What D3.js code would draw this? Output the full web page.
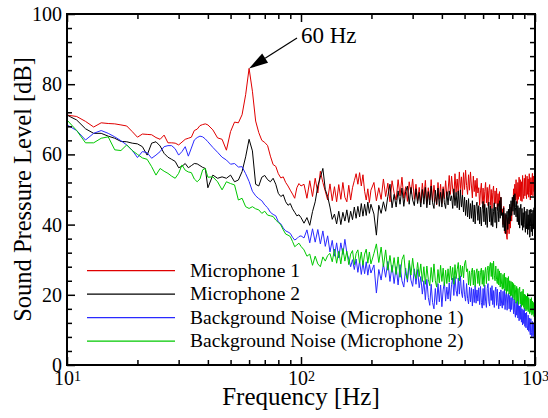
<!DOCTYPE html>
<html><head><meta charset="utf-8">
<script src="https://cdn.jsdelivr.net/npm/d3@7"></script>
<style>body{margin:0;background:#fff}svg{display:block}</style>
</head><body><svg id="c" width="548" height="418"></svg>
<script>
// frequency sampling grid segments [start, end, step] in Hz
const freqSegments = [[10,40,1],[42,100,2],[103,199,3],[205,1000,5]];

const mic1 = [
71.2,70.8,69.4,67.8,69.0,68.8,68.7,68.4,68.1,66.5,64.9,65.8,65.7,65.6,64.8,64.3,65.5,63.3,63.3,63.2,62.7,63.5,64.3,64.6,64.9,66.8,67.2,68.2,68.5,68.7,68.4,
67.0,64.7,64.3,61.2,66.5,69.2,69.0,71.3,77.0,84.5,78.0,69.5,66.2,64.0,63.4,62.5,59.5,57.1,56.6,54.5,53.3,53.6,52.0,51.0,49.8,48.7,47.5,50.5,51.7,51.0,
51.5,47.5,52.5,48.0,53.2,49.0,55.2,52.0,49.5,47.0,51.6,46.8,50.8,46.5,51.4,47.2,52.0,47.8,46.5,51.2,47.0,50.5,52.5,54.5,51.5,54.8,51.0,54.2,49.5,47.0,50.2,46.3,49.8,
52.0,46.8,50.5,47.2,53.0,48.0,51.8,46.5,52.5,49.0,
47.0,52.8,48.2,53.5,47.5,50.8,46.6,52.2,48.8,53.0,47.2,51.5,46.8,50.6,
46.2,51.8,47.5,52.6,45.8,50.5,47.0,52.8,46.5,51.2,48.0,45.6,52.0,47.2,51.5,46.0,50.8,47.4,52.5,48.2,
49.5,54.0,48.6,53.8,50.0,47.8,54.5,49.2,53.0,48.5,55.0,50.2,53.6,48.4,54.8,50.0,55.5,51.2,48.6,54.2,49.8,55.0,51.0,47.6,53.8,49.4,52.6,48.0,53.2,49.0,
50.5,45.5,49.6,51.8,46.0,50.4,44.8,49.5,52.0,46.2,50.6,45.4,49.8,51.4,45.6,50.0,44.6,49.2,51.0,45.2,49.6,46.0,50.4,44.4,48.8,45.2,49.4,43.6,47.8,43.0,
44.5,40.0,45.2,39.2,37.5,42.8,37.0,35.8,40.5,42.0,37.4,43.5,39.0,45.0,41.0,46.2,
45.2,50.2,46.0,51.5,47.0,52.8,47.6,46.0,52.0,47.2,53.5,48.0,52.8,46.8,52.2,46.6,54.0,48.8,47.4,53.2,48.2,54.2,49.0,47.4,53.8,48.6,53.0,47.8,54.5,49.2,47.0,53.4,48.4,52.8,54.6,48.2,53.8,49.4,54.8,50.0
];

const mic2 = [
71.2,69.8,67.3,66.0,66.0,65.2,64.6,63.7,63.6,63.2,63.0,62.2,59.8,63.2,63.6,62.4,60.3,59.2,58.6,58.0,56.2,56.6,57.4,56.2,56.8,57.4,57.3,56.8,56.3,56.0,50.5,
54.1,53.2,53.6,53.2,54.1,52.2,52.7,55.1,59.3,64.3,61.0,51.5,51.0,53.5,54.0,52.8,52.2,53.2,51.5,48.9,48.0,48.5,46.5,45.5,46.0,44.5,43.5,42.5,42.8,42.0,
40.4,42.0,39.8,43.7,46.5,51.0,53.5,56.0,50.0,48.0,45.0,41.5,43.0,40.2,43.8,40.0,43.5,41.0,44.2,40.6,43.8,41.4,45.0,41.8,45.2,42.2,46.0,42.4,45.8,42.6,46.4,43.2,45.8,
43.0,37.0,45.5,43.2,46.5,43.8,48.0,51.5,44.8,48.6,
45.0,49.6,45.8,50.4,45.2,49.4,51.0,45.8,50.6,47.0,45.4,50.2,46.0,49.2,
45.0,50.0,45.8,50.6,44.8,49.4,45.6,51.0,46.2,44.6,49.8,45.8,50.4,45.2,49.2,45.0,50.2,46.2,44.6,49.4,
45.6,49.6,46.8,48.2,44.6,50.2,45.4,49.2,44.8,49.6,44.2,50.0,45.0,48.4,43.6,47.8,42.6,47.0,42.2,47.4,41.6,46.0,41.8,46.8,40.8,45.6,40.2,45.2,46.4,41.2,
45.4,40.2,45.0,39.6,44.4,46.6,40.8,45.8,40.0,44.8,39.2,44.2,46.4,40.8,45.4,39.8,44.6,39.4,43.8,46.2,40.6,45.0,39.0,43.8,46.0,40.8,46.8,41.8,47.8,42.6,
43.4,39.2,44.8,38.2,43.2,37.4,42.2,43.8,38.6,44.4,40.2,45.8,41.0,46.8,42.6,47.8,
43.8,48.4,42.8,48.8,44.8,42.2,46.6,40.8,45.4,40.0,44.8,39.0,44.2,45.8,39.8,44.6,38.4,43.4,39.2,45.0,40.0,37.8,43.8,38.8,44.4,37.2,42.8,38.6,44.2,36.4,39.4,44.4,38.0,43.2,36.8,43.6,38.8,44.8,38.2,43.0
];

const noise1 = [
68.4,66.8,64.1,66.0,66.8,66.0,65.0,63.9,62.7,61.2,59.1,60.8,60.5,58.9,59.8,60.8,62.2,62.5,62.5,61.6,59.8,60.8,62.2,59.5,61.8,64.1,64.8,65.2,65.0,64.4,63.6,
62.0,60.6,59.2,58.4,57.2,57.4,56.4,56.5,54.5,52.3,49.5,48.2,47.4,46.8,45.6,44.8,43.5,42.9,42.5,40.8,40.2,39.0,38.2,37.9,37.5,36.4,35.6,36.0,36.6,36.8,
36.2,38.5,34.8,38.8,35.0,38.6,34.5,38.2,33.8,36.8,32.2,35.5,31.0,34.8,30.5,34.8,31.5,35.8,32.0,30.2,28.0,30.0,27.2,30.2,26.4,29.6,25.8,29.2,26.0,29.4,25.6,28.6,26.2,
28.5,20.5,27.2,24.2,28.8,25.0,29.5,23.8,28.4,23.2,
28.0,22.8,28.6,24.0,22.2,27.6,23.6,29.0,24.2,22.4,27.4,23.0,27.2,22.0,
25.2,20.2,24.0,18.6,24.4,19.2,17.0,23.0,17.8,16.0,21.8,17.2,23.2,18.0,22.8,16.6,21.4,23.6,18.2,22.2,
18.8,23.4,18.2,23.0,24.8,19.8,25.2,21.2,19.6,24.8,20.2,25.4,20.8,19.2,24.2,20.0,18.2,23.2,19.0,17.4,22.2,18.0,22.0,16.8,21.6,17.8,22.6,17.6,21.4,18.2,
22.0,17.2,22.4,17.8,16.2,21.8,17.0,22.8,18.2,16.4,21.8,23.2,18.0,16.8,22.0,18.4,22.6,17.2,21.2,16.4,21.0,22.2,17.0,21.6,17.8,16.0,20.8,16.8,21.4,17.4,
16.2,21.0,17.0,21.6,15.8,20.0,20.8,15.6,19.6,20.4,16.0,19.8,15.2,19.2,15.8,20.0,
18.2,14.6,18.8,15.0,13.6,18.0,14.2,18.4,13.4,17.0,12.6,16.8,13.0,17.2,12.2,16.0,11.4,15.6,11.8,16.2,11.0,14.8,10.6,15.0,11.2,10.0,14.2,9.6,13.4,9.8,8.6,13.2,9.2,8.0,12.4,8.4,12.0,7.6,11.4,8.2
];

const noise2 = [
69.8,66.8,63.3,63.3,64.6,65.0,61.3,61.1,62.7,61.1,60.0,59.0,58.6,56.5,54.1,56.0,55.2,54.6,53.8,53.2,54.6,57.0,55.5,55.0,54.8,53.0,52.2,53.0,55.6,56.0,53.5,
53.6,52.2,49.9,52.2,51.7,51.3,47.0,47.5,45.1,44.6,45.1,44.5,44.2,43.2,43.8,42.7,42.5,42.3,41.3,40.6,39.9,38.5,37.3,37.0,36.6,35.2,33.7,34.2,34.7,33.8,
32.8,31.0,31.6,28.4,31.0,28.8,28.0,30.8,29.6,31.2,31.8,29.4,33.0,29.0,32.4,28.8,33.2,29.6,32.4,28.6,31.6,32.6,28.6,31.8,32.8,29.0,32.2,28.4,31.6,33.0,29.0,32.2,28.8,
31.8,34.5,29.2,33.6,28.0,32.8,27.0,31.2,26.4,30.6,
25.8,30.8,25.0,30.0,31.4,26.0,24.4,29.8,25.6,30.4,26.2,24.6,29.2,25.2,
28.8,23.8,28.0,23.0,28.2,24.4,22.6,27.8,23.6,28.8,24.0,22.2,27.2,23.4,28.4,23.8,27.6,22.6,27.0,23.2,
27.4,23.6,28.2,24.2,27.8,23.0,28.6,24.6,27.2,29.2,24.0,28.4,25.2,28.2,24.8,28.8,29.8,26.6,27.4,22.8,26.8,22.6,26.4,27.6,22.8,27.0,22.4,26.2,27.4,23.2,
26.8,22.6,26.4,27.6,23.0,27.0,22.4,26.2,27.8,23.2,27.0,28.2,24.0,28.0,29.2,25.2,29.0,24.4,29.6,25.6,24.0,28.2,24.4,23.2,27.4,22.8,26.8,22.2,26.2,23.0,
21.6,25.8,21.8,26.2,21.2,25.0,20.4,24.8,21.0,25.2,20.2,24.0,19.6,23.8,19.8,23.6,
19.2,23.2,18.6,22.8,21.4,17.6,22.4,18.2,21.8,17.2,21.2,22.2,17.4,20.8,16.6,21.0,17.0,21.6,16.4,20.2,16.0,20.0,15.4,19.6,15.8,20.4,15.2,19.2,15.6,14.6,18.8,15.0,19.2,14.2,18.2,14.6,17.8,13.8,18.0,14.4
];

const seriesNames = ["Microphone 1","Microphone 2","Background Noise (Microphone 1)","Background Noise (Microphone 2)"];
const seriesValues = [mic1, mic2, noise1, noise2];
const seriesColors = ["#e00000","#000000","#2a2aff","#00c800"];
const yMajorTicks = [0,20,40,60,80,100];
const xMajorTicks = [10,100,1000];
const annotation = {label:"60 Hz", freq:60, value:84.5};
const xTitle = "Frequency [Hz]";
const yTitle = "Sound Pressure Level [dB]";

const FONT = '"Liberation Serif","Times New Roman",Times,serif';
const freqs = [].concat(...freqSegments.map(([a,b,s]) => d3.range(a, b + s/2, s)));

const svg = d3.select("#c");
const L=67, R=535, T=14, B=365;
const x = d3.scaleLog().domain([10,1000]).range([L,R]);
const y = d3.scaleLinear().domain([0,100]).range([B,T]);

const xMinor = [];
[10,100].forEach(p => { for (let m=2;m<=9;m++) xMinor.push(m*p); });
const yMinor = d3.range(0,101,4).filter(v => v%20 !== 0);

svg.append("clipPath").attr("id","clip").append("rect")
  .attr("x",L).attr("y",T).attr("width",R-L).attr("height",B-T);

// series lines
const line = d3.line().x(d=>x(d[0])).y(d=>y(d[1]));
const plot = svg.append("g").attr("clip-path","url(#clip)");
seriesValues.forEach((vals,i) => {
  const n = Math.min(vals.length, freqs.length);
  const pts = d3.range(n).map(k => [freqs[k], vals[k]]);
  plot.append("path").datum(pts).attr("d", line)
    .attr("fill","none").attr("stroke",seriesColors[i]).attr("stroke-width",1)
    .attr("stroke-linejoin","miter");
});

function styleAxis(g){
  g.select(".domain").remove();
  g.selectAll(".tick line").attr("stroke","#000").attr("stroke-width",1.5);
  g.attr("font-family",FONT).attr("font-size",20);
  g.selectAll(".tick text").attr("fill","#000");
}
// bottom
const gB = svg.append("g").attr("transform",`translate(0,${B})`)
  .call(d3.axisBottom(x).tickValues(xMajorTicks).tickSize(-8).tickPadding(6).tickFormat(()=>""));
styleAxis(gB);
gB.selectAll(".tick text").each(function(d){
  const t = d3.select(this);
  t.append("tspan").text("10");
  t.append("tspan").attr("dy","-0.3em").attr("font-size",14).text(Math.round(Math.log10(d)));
});
styleAxis(svg.append("g").attr("transform",`translate(0,${B})`)
  .call(d3.axisBottom(x).tickValues(xMinor).tickSize(-5).tickFormat("")));
// top
styleAxis(svg.append("g").attr("transform",`translate(0,${T})`)
  .call(d3.axisTop(x).tickValues(xMajorTicks).tickSize(-8).tickFormat("")));
styleAxis(svg.append("g").attr("transform",`translate(0,${T})`)
  .call(d3.axisTop(x).tickValues(xMinor).tickSize(-5).tickFormat("")));
// left
styleAxis(svg.append("g").attr("transform",`translate(${L},0)`)
  .call(d3.axisLeft(y).tickValues(yMajorTicks).tickSize(-8).tickPadding(5).tickFormat(d3.format("d"))));
styleAxis(svg.append("g").attr("transform",`translate(${L},0)`)
  .call(d3.axisLeft(y).tickValues(yMinor).tickSize(-5).tickFormat("")));
// right
styleAxis(svg.append("g").attr("transform",`translate(${R},0)`)
  .call(d3.axisRight(y).tickValues(yMajorTicks).tickSize(-8).tickFormat("")));
styleAxis(svg.append("g").attr("transform",`translate(${R},0)`)
  .call(d3.axisRight(y).tickValues(yMinor).tickSize(-5).tickFormat("")));

// frame
svg.append("rect").attr("x",L).attr("y",T).attr("width",R-L).attr("height",B-T)
  .attr("fill","none").attr("stroke","#000").attr("stroke-width",2);

// titles
svg.append("text").attr("x",(L+R)/2).attr("y",405).attr("text-anchor","middle")
  .attr("font-family",FONT).attr("font-size",25).text(xTitle);
svg.append("text").attr("transform",`translate(31,${(T+B)/2}) rotate(-90)`).attr("text-anchor","middle")
  .attr("font-family",FONT).attr("font-size",24.5).text(yTitle);

// legend
const leg = svg.append("g");
seriesNames.forEach((name,i) => {
  const ly = 270.7 + i*23.5;
  leg.append("line").attr("x1",87).attr("x2",175).attr("y1",ly).attr("y2",ly)
    .attr("stroke",seriesColors[i]).attr("stroke-width",1.2);
  leg.append("text").attr("x",190).attr("y",ly+6).attr("font-family",FONT)
    .attr("font-size",19.5).text(name);
});

// annotation arrow
const tip = [x(annotation.freq), y(annotation.value)];
const tail = [297, 38];
const ang = Math.atan2(tail[1]-tip[1], tail[0]-tip[0]);
const hl = 19, hw = 5.5;
const bx = tip[0] + hl*Math.cos(ang), by = tip[1] + hl*Math.sin(ang);
svg.append("line").attr("x1",tail[0]).attr("y1",tail[1]).attr("x2",bx).attr("y2",by)
  .attr("stroke","#000").attr("stroke-width",1.2);
svg.append("polygon").attr("points",[
  tip, [bx - hw*Math.sin(ang), by + hw*Math.cos(ang)], [bx + hw*Math.sin(ang), by - hw*Math.cos(ang)]
].map(p=>p.join(",")).join(" ")).attr("fill","#000");
svg.append("text").attr("x",301).attr("y",43).attr("font-family",FONT).attr("font-size",23)
  .text(annotation.label);
</script></body></html>
